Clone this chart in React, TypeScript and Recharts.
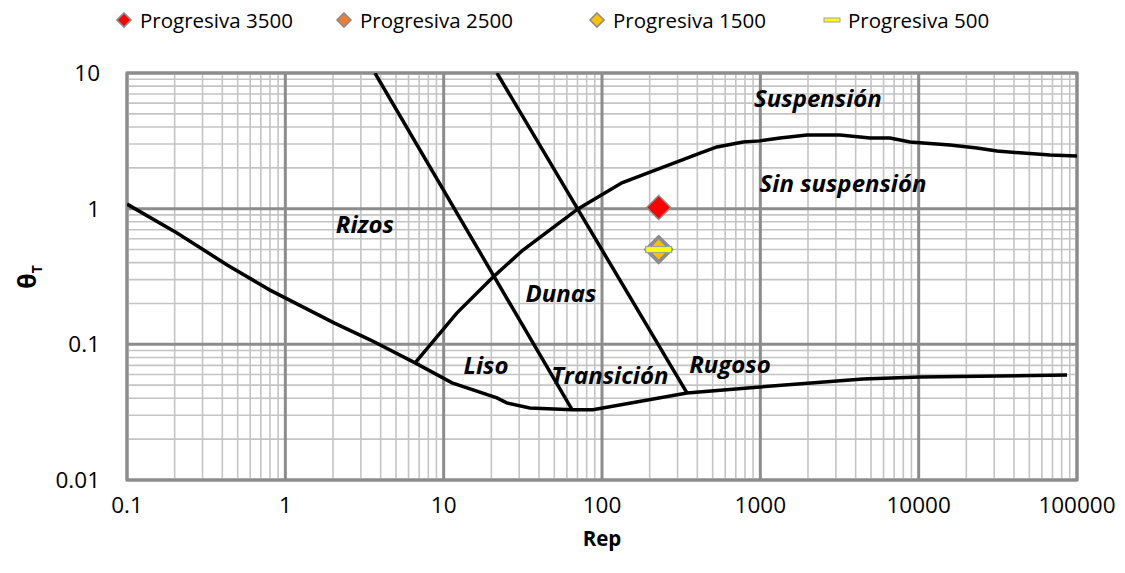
import React from "react";
import {
  ComposedChart,
  Line,
  Scatter,
  XAxis,
  YAxis,
  ReferenceLine,
  ReferenceArea,
  ReferenceDot,
} from "recharts";

const FONT = '"Open Sans", sans-serif';

// axis decades (tick labels)
const xTicks = [0.1, 1, 10, 100, 1000, 10000, 100000];
const yTicks = [0.01, 0.1, 1, 10];
const minorSteps = [2, 3, 4, 5, 6, 7, 8, 9];

// lower boundary (Liso / Transición / Rugoso floor)
const lowerCurve = [
  { x: 0.1, y: 1.08 },
  { x: 0.207, y: 0.662 },
  { x: 0.429, y: 0.385 },
  { x: 0.8, y: 0.251 },
  { x: 2.03, y: 0.144 },
  { x: 3.43, y: 0.108 },
  { x: 6.6, y: 0.073 },
  { x: 11.3, y: 0.052 },
  { x: 21.7, y: 0.0403 },
  { x: 25, y: 0.037 },
  { x: 35, y: 0.034 },
  { x: 64.7, y: 0.033 },
  { x: 87.7, y: 0.033 },
  { x: 344, y: 0.0438 },
  { x: 995, y: 0.0485 },
  { x: 4450, y: 0.0556 },
  { x: 10200, y: 0.0574 },
  { x: 86500, y: 0.0594 },
];

// suspension threshold
const suspensionCurve = [
  { x: 6.6, y: 0.073 },
  { x: 12.1, y: 0.17 },
  { x: 20.5, y: 0.313 },
  { x: 31.7, y: 0.496 },
  { x: 70.5, y: 0.995 },
  { x: 133.6, y: 1.55 },
  { x: 201, y: 1.86 },
  { x: 298, y: 2.21 },
  { x: 416, y: 2.57 },
  { x: 532, y: 2.85 },
  { x: 778, y: 3.1 },
  { x: 995, y: 3.16 },
  { x: 1332, y: 3.32 },
  { x: 1972, y: 3.49 },
  { x: 3186, y: 3.49 },
  { x: 4930, y: 3.32 },
  { x: 6590, y: 3.32 },
  { x: 8810, y: 3.1 },
  { x: 15770, y: 2.95 },
  { x: 23350, y: 2.8 },
  { x: 31250, y: 2.66 },
  { x: 45600, y: 2.57 },
  { x: 67600, y: 2.49 },
  { x: 100000, y: 2.44 },
];

// rizos / dunas boundary and dunas / transición boundary
const ripplesLine = [
  { x: 3.68, y: 10 },
  { x: 64.7, y: 0.033 },
];
const dunesLine = [
  { x: 21.7, y: 10 },
  { x: 344, y: 0.0438 },
];

// measured points
const progresiva3500 = [{ x: 228, y: 1.02 }];
const progresiva2500 = [{ x: 228, y: 0.5 }];
const progresiva1500 = [{ x: 228, y: 0.5 }];
const progresiva500 = [{ x: 228, y: 0.5 }];

const regionLabels = [
  { text: "Suspensión", x: 2312, y: 6.55 },
  { text: "Sin suspensión", x: 3330, y: 1.57 },
  { text: "Rizos", x: 3.18, y: 0.784 },
  { text: "Dunas", x: 55, y: 0.243 },
  { text: "Liso", x: 18.5, y: 0.0705 },
  { text: "Transición", x: 112, y: 0.0604 },
  { text: "Rugoso", x: 643, y: 0.0728 },
];

const minorX = xTicks.slice(0, -1).flatMap((d) => minorSteps.map((m) => d * m));
const minorY = yTicks.slice(0, -1).flatMap((d) => minorSteps.map((m) => d * m));

const MINOR = "#c4c4c4";
const MAJOR = "#8c8c8c";

const diamond = (fill: string, stroke: string, half: number, sw: number) => (props: any) => {
  const { cx, cy } = props;
  if (cx == null || cy == null) return null;
  return (
    <polygon
      points={`${cx},${cy - half} ${cx + half},${cy} ${cx},${cy + half} ${cx - half},${cy}`}
      fill={fill}
      stroke={stroke}
      strokeWidth={sw}
    />
  );
};

const dash = (props: any) => {
  const { cx, cy } = props;
  if (cx == null || cy == null) return null;
  return <rect x={cx - 13} y={cy - 3} width={26} height={6} fill="#ffff00" stroke="#a0a0a0" strokeWidth={1.2} />;
};

const legendItems = [
  { name: "Progresiva 3500", left: 112, marker: "diamond", fill: "#ff0000" },
  { name: "Progresiva 2500", left: 332, marker: "diamond", fill: "#ed7d31" },
  { name: "Progresiva 1500", left: 585, marker: "diamond", fill: "#ffc000" },
  { name: "Progresiva 500", left: 820, marker: "dash", fill: "#ffff00" },
];

function LegendRow() {
  return (
    <div style={{ position: "absolute", left: 0, top: 0, width: 1125, height: 40, fontFamily: FONT }}>
      {legendItems.map((it) => (
        <div
          key={it.name}
          style={{ position: "absolute", left: it.left, top: 6, display: "flex", alignItems: "center", height: 28 }}
        >
          <svg width={24} height={24} style={{ marginRight: 4 }}>
            {it.marker === "diamond" ? (
              <polygon points="12,5 19,12 12,19 5,12" fill={it.fill} stroke="#8c8c8c" strokeWidth={1.6} />
            ) : (
              <rect x={4} y={10} width={16} height={4} fill={it.fill} stroke="#a0a0a0" strokeWidth={1} />
            )}
          </svg>
          <span style={{ fontSize: 20.5, color: "#000" }}>{it.name}</span>
        </div>
      ))}
    </div>
  );
}

const fmt = (v: number) => String(v);

export default function App() {
  return (
    <div style={{ position: "absolute", left: 0, top: 0, width: 1125, height: 573, background: "#fff" }}>
      <LegendRow />
      <ComposedChart
        width={1125}
        height={573}
        margin={{ top: 73, right: 48, bottom: 33, left: 0 }}
        style={{ position: "absolute", left: 0, top: 0 }}
      >
        <XAxis
          type="number"
          dataKey="x"
          scale="log"
          domain={[0.1, 100000]}
          ticks={xTicks}
          tickFormatter={fmt}
          allowDataOverflow
          axisLine={false}
          tickLine={false}
          tickSize={0}
          tickMargin={17}
          height={60}
          tick={{ fontFamily: FONT, fontSize: 22.5, fill: "#000" }}
          label={{
            value: "Rep",
            position: "insideBottom",
            offset: -6,
            style: { fontFamily: FONT, fontSize: 20.5, fontWeight: 700, fill: "#000" },
          }}
        />
        <YAxis
          type="number"
          dataKey="y"
          scale="log"
          domain={[0.01, 10]}
          ticks={yTicks}
          tickFormatter={fmt}
          allowDataOverflow
          axisLine={false}
          tickLine={false}
          tickSize={0}
          tickMargin={27}
          width={127}
          tick={{ fontFamily: FONT, fontSize: 22.5, fill: "#000" }}
          label={{
            content: () => (
              <text
                transform="translate(36,277) rotate(-90)"
                textAnchor="middle"
                fontFamily={FONT}
                fontWeight={700}
                fill="#000"
              >
                <tspan fontSize={25}>θ</tspan>
                <tspan fontSize={14} dy={6}>T</tspan>
              </text>
            ),
          }}
        />

        {minorX.map((v) => (
          <ReferenceLine key={`mx${v}`} x={v} stroke={MINOR} strokeWidth={1.6} />
        ))}
        {minorY.map((v) => (
          <ReferenceLine key={`my${v}`} y={v} stroke={MINOR} strokeWidth={1.6} />
        ))}
        {xTicks.map((v) => (
          <ReferenceLine key={`Mx${v}`} x={v} stroke={MAJOR} strokeWidth={3} />
        ))}
        {yTicks.map((v) => (
          <ReferenceLine key={`My${v}`} y={v} stroke={MAJOR} strokeWidth={3} />
        ))}
        <ReferenceArea x1={0.1} x2={100000} y1={0.01} y2={10} fill="none" stroke={MAJOR} strokeWidth={3} />

        <Line data={lowerCurve} dataKey="y" type="linear" stroke="#000" strokeWidth={3.5} dot={false} isAnimationActive={false} />
        <Line data={suspensionCurve} dataKey="y" type="linear" stroke="#000" strokeWidth={3.5} dot={false} isAnimationActive={false} />
        <Line data={ripplesLine} dataKey="y" type="linear" stroke="#000" strokeWidth={3.5} dot={false} isAnimationActive={false} />
        <Line data={dunesLine} dataKey="y" type="linear" stroke="#000" strokeWidth={3.5} dot={false} isAnimationActive={false} />

        <Scatter name="Progresiva 3500" data={progresiva3500} dataKey="y" shape={diamond("#ff0000", "#8c8c8c", 12, 1.5)} isAnimationActive={false} />
        <Scatter name="Progresiva 2500" data={progresiva2500} dataKey="y" shape={diamond("#ed7d31", "#8c8c8c", 13, 3)} isAnimationActive={false} />
        <Scatter name="Progresiva 1500" data={progresiva1500} dataKey="y" shape={diamond("#ffc000", "#8c8c8c", 12, 3)} isAnimationActive={false} />
        <Scatter name="Progresiva 500" data={progresiva500} dataKey="y" shape={dash} isAnimationActive={false} />

        {regionLabels.map((l) => (
          <ReferenceDot
            key={l.text}
            x={l.x}
            y={l.y}
            r={0}
            shape={(p: any) => (
              <text
                x={p.cx}
                y={p.cy}
                textAnchor="middle"
                dominantBaseline="central"
                fontFamily={FONT}
                fontSize={24}
                fontStyle="italic"
                fontWeight={700}
                fill="#000"
              >
                {l.text}
              </text>
            )}
          />
        ))}
      </ComposedChart>
    </div>
  );
}
